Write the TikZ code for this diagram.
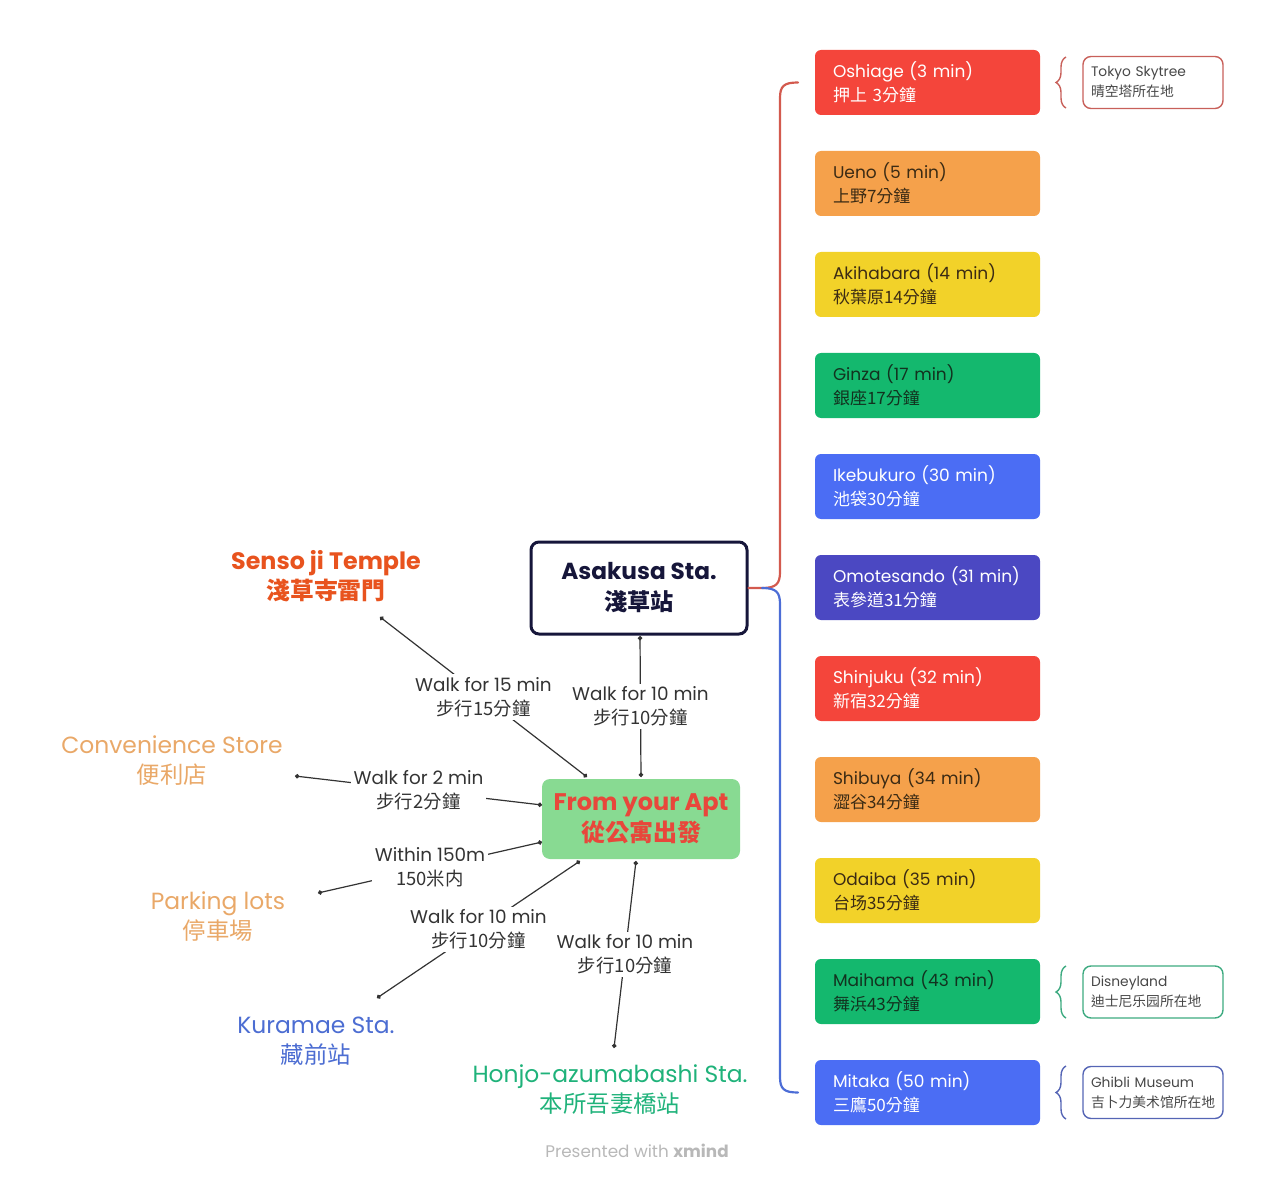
\documentclass[tikz,border=0pt]{standalone}
\usepackage{fontspec}
\setmainfont{Poppins}
\newfontfamily\cjk{Noto Sans CJK TC}
\usetikzlibrary{decorations.pathreplacing,arrows.meta}
\newcommand\zh[1]{{\cjk #1}}
\definecolor{cRed}{HTML}{F4453B}
\definecolor{cOrange}{HTML}{F5A14B}
\definecolor{cYellow}{HTML}{F2D229}
\definecolor{cGreen}{HTML}{14B86E}
\definecolor{cBlue}{HTML}{4B6DF4}
\definecolor{cIndigo}{HTML}{4B48C2}
\definecolor{txtDark}{HTML}{3B2B14}
\definecolor{txtGreen}{HTML}{12321F}
\definecolor{lnRed}{HTML}{D35A4E}
\definecolor{lnBlue}{HTML}{4C6DD6}
\definecolor{aptGreen}{HTML}{88DA92}
\definecolor{aptRed}{HTML}{E8473B}
\definecolor{senso}{HTML}{E8531E}
\definecolor{conv}{HTML}{E9A868}
\definecolor{kura}{HTML}{4C6DD2}
\definecolor{honjo}{HTML}{1FB27A}
\definecolor{navy}{HTML}{16163A}
\definecolor{calRed}{HTML}{C8605A}
\definecolor{calGreen}{HTML}{3DAA80}
\definecolor{calBlue}{HTML}{5565B5}
\tikzset{
  stn/.style={rounded corners=3pt, minimum width=112.5pt, minimum height=32.5pt,
    text width=94.5pt, inner xsep=9pt, inner ysep=0pt, align=left,
    font=\fontsize{8.5}{12}\selectfont},
  callout/.style={draw=#1, line width=0.7pt, rounded corners=4pt, minimum width=70pt,
    minimum height=26pt, text width=62pt, inner xsep=4pt, inner ysep=0pt, align=left,
    text=black!72, font=\fontsize{6.9}{10}\selectfont},
  cbrace/.style={draw=#1, line width=0.7pt, decorate, decoration={brace, amplitude=5pt}},
  place/.style={align=center, inner sep=0pt, font=\fontsize{11.7}{15}\selectfont},
  lbl/.style={fill=white, align=center, inner sep=1.5pt, text=black!80,
    font=\fontsize{9.2}{12}\selectfont},
  conn/.style={draw=black!80, line width=0.6pt, {Circle[length=2.2pt]}-{Circle[length=2.2pt]}},
}
\begin{document}
\begin{tikzpicture}[x=0.5pt,y=-0.5pt]
\useasboundingbox (0,0) rectangle (1275,1182);

% station boxes
\node[stn, fill=cRed, text=white] (b1) at (927.5,82.5) {Oshiage (3 min)\\\zh{押上 3分鐘}};
\node[stn, fill=cOrange, text=txtDark] (b2) at (927.5,183.5) {Ueno (5 min)\\\zh{上野7分鐘}};
\node[stn, fill=cYellow, text=txtDark] (b3) at (927.5,284.5) {Akihabara (14 min)\\\zh{秋葉原14分鐘}};
\node[stn, fill=cGreen, text=txtGreen] (b4) at (927.5,385.5) {Ginza (17 min)\\\zh{銀座17分鐘}};
\node[stn, fill=cBlue, text=white] (b5) at (927.5,486.5) {Ikebukuro (30 min)\\\zh{池袋30分鐘}};
\node[stn, fill=cIndigo, text=white] (b6) at (927.5,587.5) {Omotesando (31 min)\\\zh{表參道31分鐘}};
\node[stn, fill=cRed, text=white] (b7) at (927.5,688.5) {Shinjuku (32 min)\\\zh{新宿32分鐘}};
\node[stn, fill=cOrange, text=txtDark] (b8) at (927.5,789.5) {Shibuya (34 min)\\\zh{澀谷34分鐘}};
\node[stn, fill=cYellow, text=txtDark] (b9) at (927.5,890.5) {Odaiba (35 min)\\\zh{台场35分鐘}};
\node[stn, fill=cGreen, text=txtGreen] (b10) at (927.5,991.5) {Maihama (43 min)\\\zh{舞浜43分鐘}};
\node[stn, fill=cBlue, text=white] (b11) at (927.5,1092.5) {Mitaka (50 min)\\\zh{三鷹50分鐘}};

% callouts
\node[callout=calRed] (c1) at (1153,82.5) {Tokyo Skytree\\\zh{晴空塔所在地}};
\node[callout=calGreen] (c2) at (1153,992) {Disneyland\\\zh{迪士尼乐园所在地}};
\node[callout=calBlue] (c3) at (1153,1092.5) {Ghibli Museum\\\zh{吉卜力美术馆所在地}};
\draw[cbrace=calRed] (1066,108) -- (1066,57);
\draw[cbrace=calGreen] (1066,1018) -- (1066,966);
\draw[cbrace=calBlue] (1066,1119) -- (1066,1066);

% central nodes
\node[draw=navy, line width=1.5pt, rounded corners=4pt, minimum width=108pt, minimum height=46pt,
  align=center, text=navy, font=\bfseries\fontsize{11.6}{15.5}\selectfont] (asa) at (639,588)
  {Asakusa Sta.\\\zh{淺草站}};
\node[fill=aptGreen, rounded corners=4pt, minimum width=99pt, minimum height=40pt,
  align=center, text=aptRed, font=\bfseries\fontsize{12}{15.5}\selectfont] (apt) at (641,819)
  {From your Apt\\\zh{從公寓出發}};

% bracket from Asakusa
\coordinate (top) at (798,82.5);
\coordinate (bot) at (798,1092.5);
\draw[lnRed, line width=1.1pt, line cap=round] (asa.east) -- (762,588)
  .. controls (776,588) and (780,584) .. (780,572) -- (780,98)
  .. controls (780,86) and (784,82.5) .. (top);
\draw[lnBlue, line width=1.1pt, line cap=round] (762,588)
  .. controls (776,588) and (780,592) .. (780,604) -- (780,1077)
  .. controls (780,1089) and (784,1092.5) .. (bot);

% places
\node[place, text=senso, font=\bfseries\fontsize{11.9}{15}\selectfont] (senso) at (326,576) {Senso ji Temple\\\zh{淺草寺雷門}};
\node[place, text=conv] (conv) at (172,761) {Convenience Store\\\zh{便利店}};
\node[place, text=conv] (park) at (218,917) {Parking lots\\\zh{停車場}};
\node[place, text=kura] (kura) at (316,1041) {Kuramae Sta.\\\zh{藏前站}};
\node[place, text=honjo] (honjo) at (610,1090) {Honjo-azumabashi Sta.\\\zh{本所吾妻橋站}};

% connector end points
\coordinate (s1) at (587,777);
\coordinate (s2) at (641,777);
\coordinate (s3) at (542,805);
\coordinate (s4) at (542,842);
\coordinate (s5) at (580,861);
\coordinate (s6) at (636,861);
\coordinate (t1) at (380,617);
\coordinate (t2) at (640,636);
\coordinate (t3) at (295,776);
\coordinate (t4) at (318,893);
\coordinate (t5) at (377,998);
\coordinate (t6) at (614,1048);

\draw[conn] (s1) -- node[lbl] {Walk for 15 min\\\zh{步行15分鐘}} (t1);
\draw[conn] (s2) -- node[lbl] {Walk for 10 min\\\zh{步行10分鐘}} (t2);
\draw[conn] (s3) -- node[lbl] {Walk for 2 min\\\zh{步行2分鐘}} (t3);
\draw[conn] (s4) -- node[lbl] {Within 150m\\\zh{150米内}} (t4);
\draw[conn] (s5) -- node[lbl] {Walk for 10 min\\\zh{步行10分鐘}} (t5);
\draw[conn] (s6) -- node[lbl] {Walk for 10 min\\\zh{步行10分鐘}} (t6);

% watermark
\node[text=black!28, font=\fontsize{8.4}{10}\selectfont, inner sep=0pt] (wm) at (637,1151) {Presented with \textbf{xmind}};
\end{tikzpicture}
\end{document}
